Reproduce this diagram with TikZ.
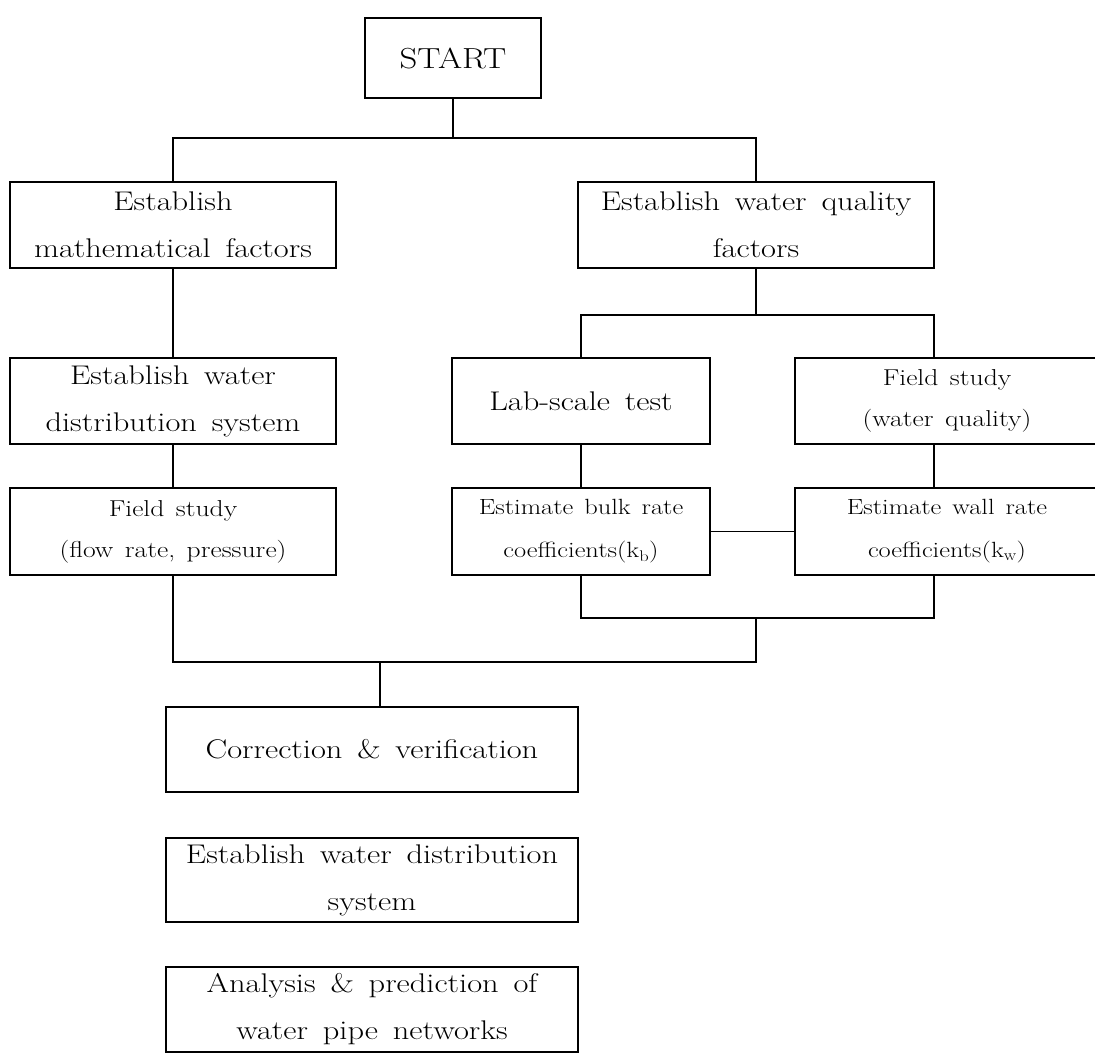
\documentclass[tikz,border=0pt]{standalone}
\usepackage{fontspec}
\setmainfont{Latin Modern Roman}[FakeStretch=1.2]
\newcommand\fstart{\fontsize{29}{47}\selectfont\spaceskip0.55em\relax}
\newcommand\fbig{\fontsize{27}{47}\selectfont\spaceskip0.55em\relax}
\newcommand\fsmall{\fontsize{23}{41}\selectfont\spaceskip0.5em\relax}
\newcommand\fmid{\fontsize{22}{43}\selectfont\spaceskip0.5em\relax}
\begin{document}
\begin{tikzpicture}[x=1pt,y=-1pt,
  box/.style={draw,line width=1.1pt,align=center,inner sep=0pt,minimum height=86pt},
  big/.style={font=\fbig},
  small/.style={font=\fsmall},
  mid/.style={font=\fmid},
  ln/.style={line width=1.1pt}]
\useasboundingbox (0,0) rectangle (1095,1064);
\begin{scope}
\clip (0,0) rectangle (1095,1064);
\node[box,font=\fstart,minimum width=176pt,minimum height=80pt] (start) at (453,58) {START};
\node[box,big,minimum width=326pt] (math) at (173,225) {Establish\\mathematical factors};
\node[box,big,minimum width=356pt] (wq) at (756,225) {Establish water quality\\factors};
\node[box,big,minimum width=326pt] (dist) at (173,401) {Establish water\\distribution system};
\node[box,big,minimum width=258pt] (lab) at (581,401) {Lab-scale test};
\node[box,small,minimum width=304pt] (fwq) at (947,401) {Field study\\(water quality)};
\node[box,small,minimum width=326pt,minimum height=87pt] (ffr) at (173,531.5) {Field study\\(flow rate, pressure)};
\node[box,mid,minimum width=258pt,minimum height=87pt] (bulk) at (581,531.5) {Estimate bulk rate\\coefficients(k\textsubscript{b})};
\node[box,mid,minimum width=304pt,minimum height=87pt] (wall) at (947,531.5) {Estimate wall rate\\coefficients(k\textsubscript{w})};
\node[box,big,minimum width=412pt,minimum height=85pt] (corr) at (372,749.5) {Correction \& verification};
\node[box,big,minimum width=412pt,minimum height=84pt] (est) at (372,880) {Establish water distribution\\system};
\node[box,big,minimum width=412pt,minimum height=85pt] (ana) at (372,1009.5) {Analysis \& prediction of\\water pipe networks};
\end{scope}
% connectors
\coordinate (j1) at (453,138);
\draw[ln] (start.south) -- (j1);
\draw[ln] (math.north) |- (j1) -| (wq.north);
\draw[ln] (math.south) -- (dist.north);
\coordinate (j2) at (756,315);
\coordinate (cx) at (934,0);
\draw[ln] (wq.south) -- (j2);
\draw[ln] (lab.north) |- (j2);
\draw[ln] (j2) -| (fwq.north -| cx);
\draw[ln] (dist.south) -- (ffr.north);
\draw[ln] (lab.south) -- (bulk.north);
\draw[ln] (fwq.south -| cx) -- (wall.north -| cx);
\draw[ln] (bulk.east) -- (wall.west);
\coordinate (j3) at (756,618);
\draw[ln] (bulk.south) |- (j3);
\draw[ln] (wall.south -| cx) |- (j3);
\coordinate (j4) at (380,662);
\draw[ln] (j3) |- (j4);
\draw[ln] (ffr.south) |- (j4);
\draw[ln] (j4) -- (corr.north -| j4);
\end{tikzpicture}
\end{document}
